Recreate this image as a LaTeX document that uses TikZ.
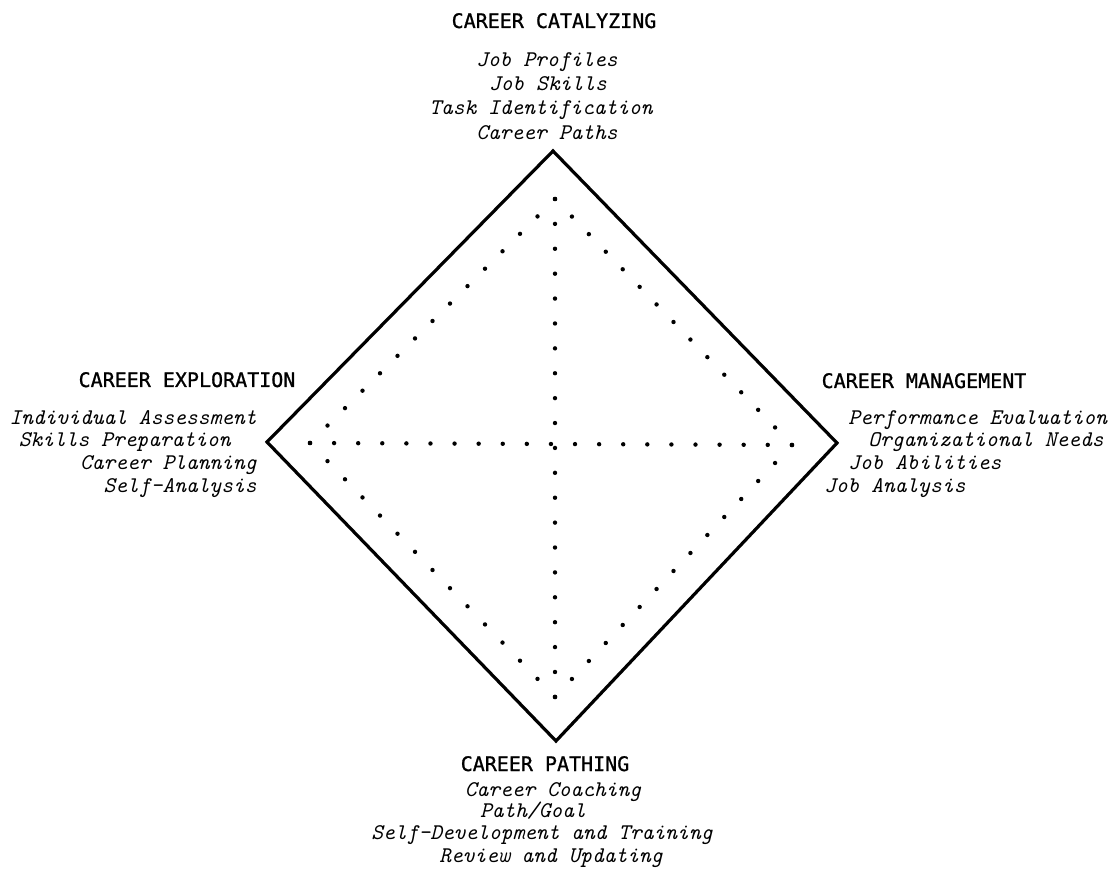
\documentclass[tikz,border=0pt]{standalone}
\usepackage{fontspec}
\usetikzlibrary{decorations.markings}
\newfontfamily\headfont{DejaVu Sans Mono}[FakeBold=1]
\tikzset{
	heading/.style={anchor=base, inner sep=0pt, font=\headfont\fontsize{10}{12}\selectfont},
	entry/.style={anchor=base, inner sep=0pt, font=\ttfamily\itshape\addfontfeatures{FakeBold=1.5}\fontsize{11.2}{12}\selectfont},
	frame/.style={line width=1.6pt, line join=miter},
	dotline/.style={decoration={markings, mark=between positions 0 and 1.001 step 1/#1 with {\fill (0,0) circle (1.1pt);}}, postaction={decorate}},
}
\begin{document}
\begin{tikzpicture}[x=0.5pt, y=-0.5pt]
	\useasboundingbox (0, 0) rectangle (1115, 887);
	% Corners of the two diamonds:
	\coordinate (otop) at (553, 151);
	\coordinate (oright) at (837, 443);
	\coordinate (obottom) at (556, 741);
	\coordinate (oleft) at (267, 442);
	\coordinate (itop) at (555, 199);
	\coordinate (iright) at (792, 445);
	\coordinate (ibottom) at (555, 697);
	\coordinate (ileft) at (310, 443);
	% Solid frame and dotted inner lines:
	\draw[frame] (otop) -- (oright) -- (obottom) -- (oleft) -- cycle;
	\path[dotline=14] (itop) -- (iright);
	\path[dotline=14] (itop) -- (ileft);
	\path[dotline=14] (iright) -- (ibottom);
	\path[dotline=14] (ileft) -- (ibottom);
	\path[dotline=20] (ileft) -- (iright);
	\path[dotline=20] (itop) -- (ibottom);
	% Top corner:
	\node[heading] (catalyzing) at (554, 28) {CAREER CATALYZING};
	\node[entry] (jobprofiles) at (547, 67) {Job Profiles};
	\node[entry] (jobskills) at (548, 91) {Job Skills};
	\node[entry] (taskid) at (541, 115) {Task Identification};
	\node[entry] (careerpaths) at (547, 140) {Career Paths};
	% Left corner:
	\node[heading] (exploration) at (187, 387) {CAREER EXPLORATION};
	\node[entry, anchor=base east] (indassess) at (257, 425) {Individual Assessment};
	\node[entry, anchor=base east] (skillsprep) at (231, 447) {Skills Preparation};
	\node[entry, anchor=base east] (careerplan) at (257, 470) {Career Planning};
	\node[entry, anchor=base east] (selfanalysis) at (257, 493) {Self-Analysis};
	% Right corner:
	\node[heading] (management) at (924, 388) {CAREER MANAGEMENT};
	\node[entry, anchor=base west] (perfeval) at (848, 425) {Performance Evaluation};
	\node[entry, anchor=base west] (orgneeds) at (868, 447) {Organizational Needs};
	\node[entry, anchor=base west] (jobabil) at (848, 470) {Job Abilities};
	\node[entry, anchor=base west] (jobanalysis) at (824, 493) {Job Analysis};
	% Bottom corner:
	\node[heading] (pathing) at (545, 771) {CAREER PATHING};
	\node[entry] (coaching) at (553, 797) {Career Coaching};
	\node[entry] (pathgoal) at (533, 818) {Path/Goal};
	\node[entry] (selfdev) at (542, 840) {Self-Development and Training};
	\node[entry] (review) at (551, 862) {Review and Updating};
\end{tikzpicture}
\end{document}
